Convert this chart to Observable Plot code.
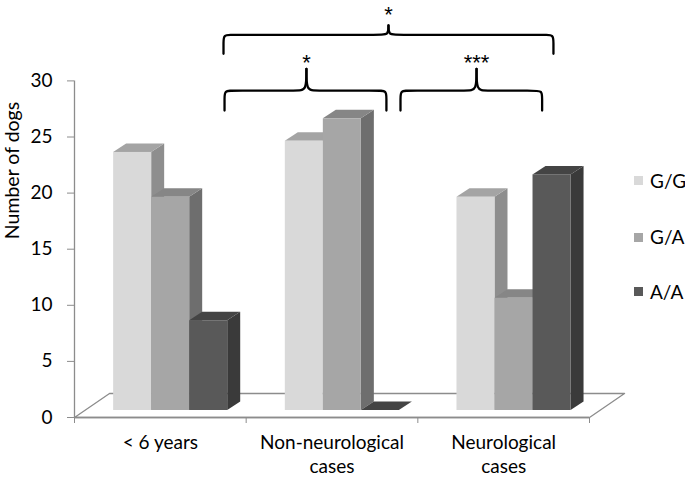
<!DOCTYPE html>
<html><head><meta charset="utf-8">
<script src="https://cdn.jsdelivr.net/npm/d3@7"></script>
<script src="https://cdn.jsdelivr.net/npm/@observablehq/plot@0.6"></script>
<style>
html,body{margin:0;padding:0;background:#fff;}
#wrap{position:relative;width:685px;height:478px;font-family:Lato,"Open Sans",sans-serif;}
.lg{position:absolute;left:634px;height:20px;line-height:20px;font-size:19px;color:#000;display:flex;align-items:center;white-space:nowrap;}
.lg i{display:inline-block;width:8.5px;height:8.5px;margin-right:7.5px;}
</style></head><body><div id="wrap"></div>
<script>
// ---- data ----
const categories = ["< 6 years", "Non-neurological\ncases", "Neurological\ncases"];
const genotypes = ["G/G", "G/A", "A/A"];
const valuesGG = [23, 24, 19];
const valuesGA = [19, 26, 10];
const valuesAA = [8, 0, 21];
const yTicks = [0, 5, 10, 15, 20, 25, 30];
const yLabel = "Number of dogs";
// significance: overall (<6 y vs neurological), <6 y vs non-neurological, non-neurological vs neurological
const sigLabels = ["*", "*", "***"];

// ---- styles / layout ----
const frontColors = ["#d9d9d9", "#a6a6a6", "#595959"];
const topColors = ["#a4a4a4", "#868686", "#444444"];
const sideColors = ["#8e8e8e", "#6e6e6e", "#3a3a3a"];
const axisGray = "#8c8c8c";
const groupStart = 0.228, barW = 0.2215;       // in category units
const depthX = 0.0757, depthY = 0.758;          // bar depth offset (data units)
const floorX = 0.204, floorY = 2.14;            // floor depth offset
const baseShift = -7;                            // px: bars sit mid-depth
// bracket geometry (category units / value units), same order as sigLabels
const brackets = [
  {x1: 0.868, x2: 2.790, tip: 1.829, yEnd: 32.42, yBar: 34.11, yTip: 34.94, yText: 35.9},
  {x1: 0.874, x2: 1.817, tip: 1.351, yEnd: 27.36, yBar: 29.14, yTip: 31.08, yText: 31.6},
  {x1: 1.899, x2: 2.724, tip: 2.342, yEnd: 27.36, yBar: 29.14, yTip: 31.08, yText: 31.6}
];

const series = [valuesGG, valuesGA, valuesAA];
const bars = [];
categories.forEach((c, ci) => genotypes.forEach((g, si) => {
  const x1 = ci + groupStart + si * barW;
  bars.push({cat: c, geno: g, ci, si, v: series[si][ci], x1, x2: x1 + barW});
}));

const sidePts = [], topPts = [];
bars.forEach((b, i) => {
  sidePts.push({id: i, x: b.x2, y1: 0, y2: b.v, c: sideColors[b.si]});
  sidePts.push({id: i, x: b.x2 + depthX, y1: depthY, y2: b.v + depthY, c: sideColors[b.si]});
  topPts.push({id: i, x: b.x1, y1: b.v, y2: b.v, c: topColors[b.si]});
  topPts.push({id: i, x: b.x1 + depthX, y1: b.v, y2: b.v + depthY, c: topColors[b.si]});
  topPts.push({id: i, x: b.x2, y1: b.v, y2: b.v + depthY, c: topColors[b.si]});
  topPts.push({id: i, x: b.x2 + depthX, y1: b.v + depthY, y2: b.v + depthY, c: topColors[b.si]});
});

const floor = [[0, 0], [3, 0], [3 + floorX, floorY], [floorX, floorY], [0, 0]].map(([x, y]) => ({x, y}));

const rx = 0.047, ry = 0.71;
const bracePts = [];
brackets.forEach((b, k) => {
  [[b.x1, 1], [b.x2, -1]].forEach(([xa, s], h) => {
    const id = k * 2 + h;
    const pts = [[xa, b.yEnd], [xa, b.yEnd], [xa, b.yEnd], [xa, b.yBar - ry], [xa, b.yBar],
      [xa + s * rx, b.yBar], [b.tip - s * rx, b.yBar], [b.tip, b.yBar], [b.tip, b.yTip], [b.tip, b.yTip], [b.tip, b.yTip]];
    pts.forEach(([x, y]) => bracePts.push({id, x, y}));
  });
});

const chart = Plot.plot({
  width: 685, height: 478,
  marginLeft: 74, marginRight: 96, marginTop: 80.4, marginBottom: 61,
  x: {domain: [0, 3], axis: null},
  y: {domain: [0, 30], axis: null},
  color: {type: "identity"},
  style: {fontFamily: "Lato, 'Open Sans', sans-serif", background: "white", overflow: "visible"},
  marks: [
    Plot.line(floor, {x: "x", y: "y", stroke: axisGray, strokeWidth: 1.3}),
    Plot.ruleX([0], {y1: 0, y2: 30, stroke: axisGray, strokeWidth: 1.3}),
    Plot.ruleY([0], {x1: 0, x2: 3, stroke: axisGray, strokeWidth: 1.3}),
    Plot.axisY(yTicks, {tickSize: 7, tickPadding: 15, stroke: axisGray, fill: "#000", fontSize: 19, label: null}),
    Plot.axisX([0, 1, 2, 3], {tickSize: 6, tickFormat: () => "", stroke: axisGray, label: null}),
    Plot.area(sidePts, {x1: "x", y1: "y1", y2: "y2", z: "id", fill: "c", dy: baseShift, curve: "linear"}),
    Plot.area(topPts, {x1: "x", y1: "y1", y2: "y2", z: "id", fill: "c", dy: baseShift, curve: "linear"}),
    Plot.rect(bars, {x1: "x1", x2: "x2", y1: 0, y2: "v", fill: d => frontColors[d.si], dy: baseShift}),
    Plot.text(categories, {x: (d, i) => i + 0.5, y: 0, text: d => d, dy: 15, lineAnchor: "top", lineHeight: 1.25, fontSize: 19, fill: "#000"}),
    Plot.text([yLabel], {frameAnchor: "left", dx: -61.5, dy: -10, rotate: -90, fontSize: 19.5, fill: "#000"}),
    Plot.line(bracePts, {x: "x", y: "y", z: "id", curve: "basis", stroke: "#000", strokeWidth: 2.3, strokeLinejoin: "round"}),
    Plot.text(brackets, {x: "tip", y: "yText", text: (d, i) => sigLabels[i], fontSize: 22, fontFamily: "'Liberation Sans', Arial, sans-serif", fill: "#000"})
  ]
});

const wrap = document.getElementById("wrap");
wrap.appendChild(chart);
const legendY = [180.7, 237.3, 291.7];
genotypes.forEach((g, i) => {
  const el = document.createElement("div");
  el.className = "lg";
  el.style.top = (legendY[i] - 10) + "px";
  el.innerHTML = `<i style="background:${frontColors[i]}"></i>${g}`;
  wrap.appendChild(el);
});
</script></body></html>
